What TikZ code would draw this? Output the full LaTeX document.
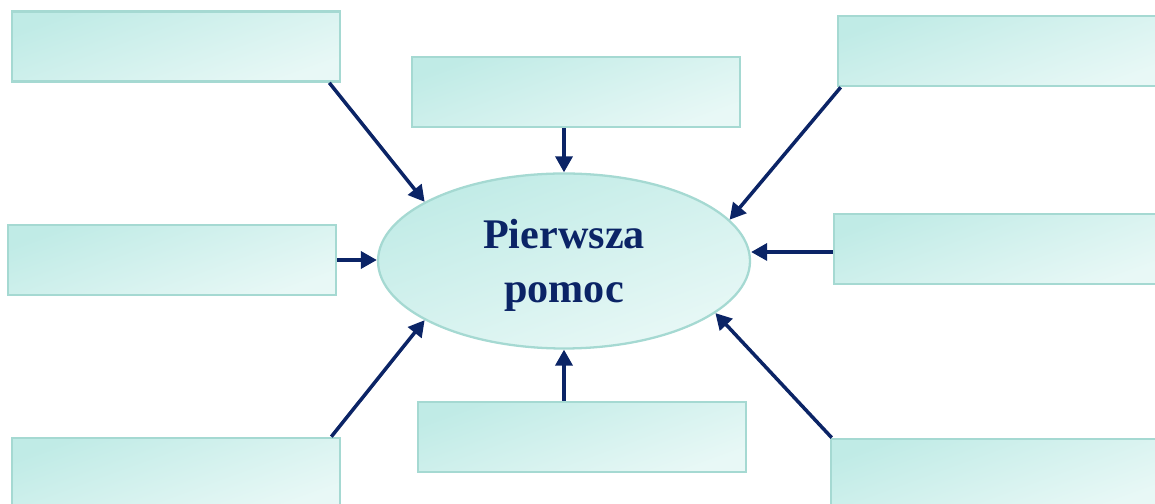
\documentclass[tikz,border=0pt]{standalone}
\usepackage{fontspec}
\setmainfont{Liberation Serif}
\usepackage{tikz}
\usetikzlibrary{arrows.meta,shapes.geometric}
\definecolor{boxtop}{HTML}{C0EBE6}
\definecolor{boxbot}{HTML}{E8F8F6}
\definecolor{boxline}{HTML}{A5D9D2}
\definecolor{navy}{HTML}{0B2466}

\begin{document}
\begin{tikzpicture}[
  box/.style={rectangle, draw=boxline, line width=1.5pt, top color=boxtop, bottom color=boxbot, shading angle=20, minimum width=6.56cm, minimum height=1.4cm, inner sep=0pt},
  oval/.style={ellipse, draw=boxline, line width=1.3pt, top color=boxtop, bottom color=boxbot, shading angle=20, minimum width=7.44cm, minimum height=3.5cm, inner sep=0pt, align=center, text=navy, font=\fontsize{24}{31}\selectfont\bfseries},
  arr/.style={-{Triangle[length=3.2mm, width=3.4mm]}, navy, line width=2pt}
]
  \clip (0,0) rectangle (23.1,10.08);
  \node[oval] (pomoc) at (11.28,4.86) {Pierwsza\\\raisebox{0pt}[\height][0pt]{pomoc}};

  \node[box] (tl) at (3.52,9.15) {};
  \node[box] (tm) at (11.52,8.24) {};
  \node[box] (tr) at (20.04,9.06) {};
  \node[box] (ml) at (3.44,4.88) {};
  \node[box] (mr) at (19.96,5.10) {};
  \node[box] (bl) at (3.52,0.62) {};
  \node[box] (bm) at (11.64,1.34) {};
  \node[box] (br) at (19.90,0.60) {};

  \draw[arr] ([xshift=-0.24cm]tl.south east) -- (pomoc.157);
  \draw[arr] (tm.south -| pomoc.north) -- (pomoc.north);
  \draw[arr] ([xshift=0.08cm]tr.south west) -- (pomoc.14);
  \draw[arr] (ml.east) -- (ml.east -| pomoc.west);
  \draw[arr] ([yshift=-0.06cm]mr.west) -- ([yshift=-0.06cm]mr.west -| pomoc.east);
  \draw[arr] ([xshift=-0.2cm]bl.north east) -- (pomoc.203);
  \draw[arr] (bm.north -| pomoc.south) -- (pomoc.south);
  \draw[arr] ([xshift=0.04cm]br.north west) -- (pomoc.-19);
\end{tikzpicture}
\end{document}
